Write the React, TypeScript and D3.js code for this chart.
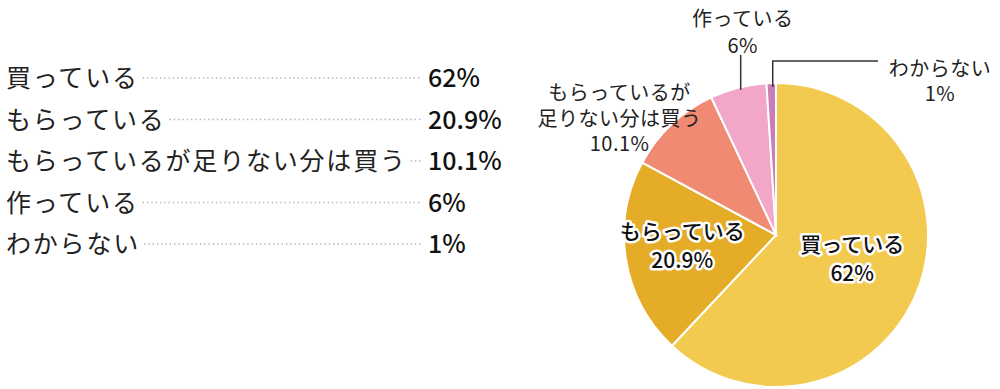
import { useEffect, useRef } from "react"
import * as d3 from "d3"

const categories = ["買っている", "もらっている", "もらっているが足りない分は買う", "作っている", "わからない"]
const values = [62, 20.9, 10.1, 6, 1]
const valueLabels = ["62%", "20.9%", "10.1%", "6%", "1%"]
const colors = ["#F3CA50", "#E5AC27", "#F08A72", "#F2A6C8", "#C97FB5"]
// pie labels, split into lines
const pieLabelLines = [["買っている", "62%"], ["もらっている", "20.9%"], ["もらっているが", "足りない分は買う", "10.1%"], ["作っている", "6%"], ["わからない", "1%"]]

const WIDTH = 1000
const HEIGHT = 389
const FONT = "'Noto Sans CJK JP', 'Noto Sans', sans-serif"

export default function App() {
  const svgRef = useRef<SVGSVGElement | null>(null)

  useEffect(() => {
    if (!svgRef.current) return
    const svg = d3.select(svgRef.current)
    svg.selectAll("*").remove()

    // ---- left list ----
    const rowY = d3.scalePoint<string>().domain(categories).range([76, 242])
    const list = svg.append("g").attr("font-family", FONT)
    const valueX = 428
    categories.forEach((c, i) => {
      const y = rowY(c)!
      const t = list
        .append("text")
        .attr("x", 6)
        .attr("y", y)
        .attr("dominant-baseline", "central")
        .attr("font-size", 25)
        .attr("letter-spacing", 1.8)
        .attr("fill", "#222")
        .text(c)
      const len = (t.node() as SVGTextElement).getComputedTextLength()
      list
        .append("line")
        .attr("x1", 6 + len + 4)
        .attr("x2", valueX - 6)
        .attr("y1", y + 2)
        .attr("y2", y + 2)
        .attr("stroke", "#a8b0bc")
        .attr("stroke-width", 1.3)
        .attr("stroke-dasharray", "1.3 3")
      list
        .append("text")
        .attr("x", valueX)
        .attr("y", y)
        .attr("dominant-baseline", "central")
        .attr("font-size", 25)
        .attr("font-weight", 500)
        .attr("fill", "#111")
        .text(valueLabels[i])
    })

    // ---- pie ----
    const cx = 776
    const cy = 235
    const r = 152
    const pie = d3.pie<number>().sort(null).value((d) => d)
    const arcs = pie(values)
    const arc = d3.arc<d3.PieArcDatum<number>>().innerRadius(0).outerRadius(r)
    const g = svg.append("g").attr("transform", `translate(${cx},${cy})`)
    g.selectAll("path")
      .data(arcs)
      .join("path")
      .attr("d", arc)
      .attr("fill", (_, i) => colors[i])
      .attr("stroke", "#fff")
      .attr("stroke-width", 2)

    const mid = (a: d3.PieArcDatum<number>) => (a.startAngle + a.endAngle) / 2
    const pt = (ang: number, rad: number) => [Math.sin(ang) * rad, -Math.cos(ang) * rad]

    const drawLines = (lines: string[], x: number, y: number, inside: boolean, lh: number) => {
      const t = g
        .append("text")
        .attr("font-family", FONT)
        .attr("font-size", inside ? 21 : 20)
        .attr("text-anchor", "middle")
        .attr("fill", inside ? "#111" : "#222")
        .attr("font-weight", inside ? 500 : 400)
      if (!inside) t.attr("letter-spacing", 0.5)
      if (inside) {
        t.attr("stroke", "#fff").attr("stroke-width", 5).attr("stroke-linejoin", "round").attr("paint-order", "stroke")
      }
      lines.forEach((l, k) => {
        t.append("tspan")
          .attr("x", x)
          .attr("y", y + k * lh)
          .attr("dominant-baseline", "central")
          .text(l)
      })
    }

    // inside labels
    const insideRad = [82, 95]
    const insideShift = [-22, -20]
    ;[0, 1].forEach((i) => {
      const [x, y] = pt(mid(arcs[i]), insideRad[i])
      drawLines(pieLabelLines[i], x, y + insideShift[i], true, 29)
    })

    // 10.1%: no leader
    {
      const [x, y] = pt(mid(arcs[2]), r)
      drawLines(pieLabelLines[2], x - 52, y - 33, false, 25.5)
    }

    // 6%: vertical leader
    {
      const [x, y] = pt(mid(arcs[3]), r - 2)
      g.append("line")
        .attr("x1", x + 2)
        .attr("x2", x + 2)
        .attr("y1", y)
        .attr("y2", -180)
        .attr("stroke", "#333")
        .attr("stroke-width", 1.5)
      drawLines(pieLabelLines[3], x + 4, -218, false, 27)
    }

    // 1%: elbow leader
    {
      const [x] = pt(mid(arcs[4]), r)
      const lx = x + 1.5
      g.append("path")
        .attr("d", `M${lx},${-r + 4}V${-174}H${102}`)
        .attr("fill", "none")
        .attr("stroke", "#333")
        .attr("stroke-width", 1.5)
      drawLines(pieLabelLines[4], 164, -168, false, 25.5)
    }
  }, [])

  return (
    <svg
      ref={svgRef}
      width={WIDTH}
      height={HEIGHT}
      style={{ position: "absolute", left: 0, top: 0, background: "#fff" }}
    ></svg>
  )
}
